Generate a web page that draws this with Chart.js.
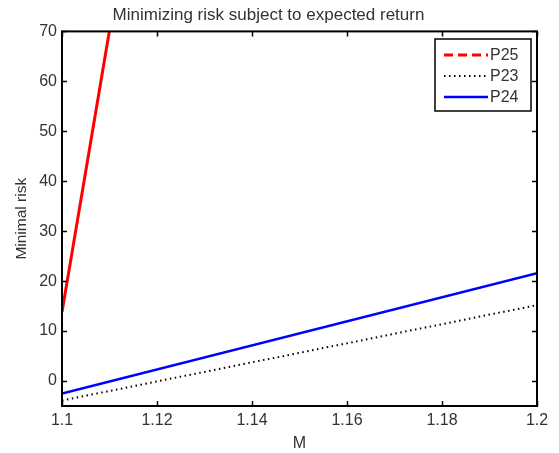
<!DOCTYPE html>
<html>
<head>
<meta charset="utf-8">
<script src="https://cdn.jsdelivr.net/npm/chart.js@4.4.1/dist/chart.umd.min.js"></script>
<style>
  html, body { margin: 0; padding: 0; background: #fff; }
  #wrap { width: 559px; height: 453px; }
</style>
</head>
<body>
<div id="wrap"><canvas id="chart"></canvas></div>
<script>
// values
const xTicks = [1.1, 1.12, 1.14, 1.16, 1.18, 1.2];
const yTicks = [0, 10, 20, 30, 40, 50, 60, 70];
const p25 = [{ x: 1.1, y: 13.8 }, { x: 1.11, y: 70.2 }];
const p23 = [{ x: 1.1, y: -3.9 }, { x: 1.2, y: 15.2 }];
const p24 = [{ x: 1.1, y: -2.5 }, { x: 1.2, y: 21.6 }];

const font = "'Liberation Sans', Arial, Helvetica, sans-serif";
const textColor = '#333';
Chart.defaults.font.family = font;
Chart.defaults.color = textColor;

// MATLAB style box, inward ticks and legend
const matlabBox = {
    id: 'matlabBox',
    afterDraw(chart) {
        const { ctx, chartArea: a, scales } = chart;
        ctx.save();
        ctx.strokeStyle = '#000';
        ctx.lineWidth = 2;
        ctx.setLineDash([]);
        ctx.strokeRect(a.left, a.top, a.right - a.left, a.bottom - a.top);

        const len = 5;
        ctx.lineWidth = 1.5;
        ctx.beginPath();
        xTicks.forEach(v => {
            const px = Math.round(scales.x.getPixelForValue(v)) + 0.5;
            ctx.moveTo(px, a.bottom); ctx.lineTo(px, a.bottom - len);
            ctx.moveTo(px, a.top); ctx.lineTo(px, a.top + len);
        });
        yTicks.forEach(v => {
            const py = Math.round(scales.y.getPixelForValue(v)) + 0.5;
            ctx.moveTo(a.left, py); ctx.lineTo(a.left + len, py);
            ctx.moveTo(a.right, py); ctx.lineTo(a.right - len, py);
        });
        ctx.stroke();

        // legend
        const bx = 435, by = 39, bw = 96, bh = 72;
        ctx.fillStyle = '#fff';
        ctx.fillRect(bx, by, bw, bh);
        ctx.lineWidth = 1.5;
        ctx.strokeStyle = '#000';
        ctx.strokeRect(bx, by, bw, bh);
        ctx.font = '16px ' + font;
        ctx.textBaseline = 'middle';
        chart.data.datasets.forEach((ds, i) => {
            const y = by + 16 + i * 21;
            ctx.beginPath();
            ctx.strokeStyle = ds.borderColor;
            ctx.lineWidth = ds.borderWidth;
            ctx.setLineDash(ds.legendDash || ds.borderDash || []);
            ctx.moveTo(444, y); ctx.lineTo(488, y);
            ctx.stroke();
            ctx.setLineDash([]);
            ctx.fillStyle = textColor;
            ctx.fillText(ds.label, 490, y + 1);
        });
        ctx.restore();
    }
};

new Chart(document.getElementById('chart'), {
    type: 'line',
    data: {
        datasets: [
            {
                label: 'P25',
                data: p25,
                borderColor: '#ff0000',
                borderWidth: 3,
                // the noisy dashed curve reads as solid in the plot
                legendDash: [9, 5]
            },
            {
                label: 'P23',
                data: p23,
                borderColor: '#000000',
                borderWidth: 2,
                borderDash: [1.5, 3.5]
            },
            {
                label: 'P24',
                data: p24,
                borderColor: '#0000ff',
                borderWidth: 2.5
            }
        ]
    },
    options: {
        responsive: true,
        maintainAspectRatio: false,
        animation: false,
        elements: { point: { radius: 0 }, line: { tension: 0 } },
        layout: { padding: { right: 22 } },
        plugins: {
            legend: { display: false },
            tooltip: { enabled: false },
            title: {
                display: true,
                text: 'Minimizing risk subject to expected return',
                font: { size: 17, weight: 'normal' },
                color: textColor,
                padding: { top: 5, bottom: 6 }
            }
        },
        scales: {
            x: {
                type: 'linear',
                min: 1.1,
                max: 1.2,
                afterBuildTicks: s => { s.ticks = xTicks.map(v => ({ value: v })); },
                afterFit: s => { s.height = 47; },
                ticks: {
                    font: { size: 16 },
                    color: textColor,
                    padding: 5,
                    maxRotation: 0,
                    callback: v => String(Number(v.toFixed(2)))
                },
                grid: { display: false, drawTicks: false },
                border: { display: false },
                title: { display: true, text: 'M', font: { size: 16 }, color: textColor, padding: { top: 1, bottom: 0 } }
            },
            y: {
                min: -5,
                max: 70,
                afterBuildTicks: s => { s.ticks = yTicks.map(v => ({ value: v })); },
                afterFit: s => { s.width = 62; },
                ticks: { font: { size: 16 }, color: textColor, padding: 5 },
                grid: { display: false, drawTicks: false },
                border: { display: false },
                title: { display: true, text: 'Minimal risk', font: { size: 15.5 }, color: textColor, padding: { top: 12, bottom: 0 } }
            }
        }
    },
    plugins: [matlabBox]
});
</script>
</body>
</html>
